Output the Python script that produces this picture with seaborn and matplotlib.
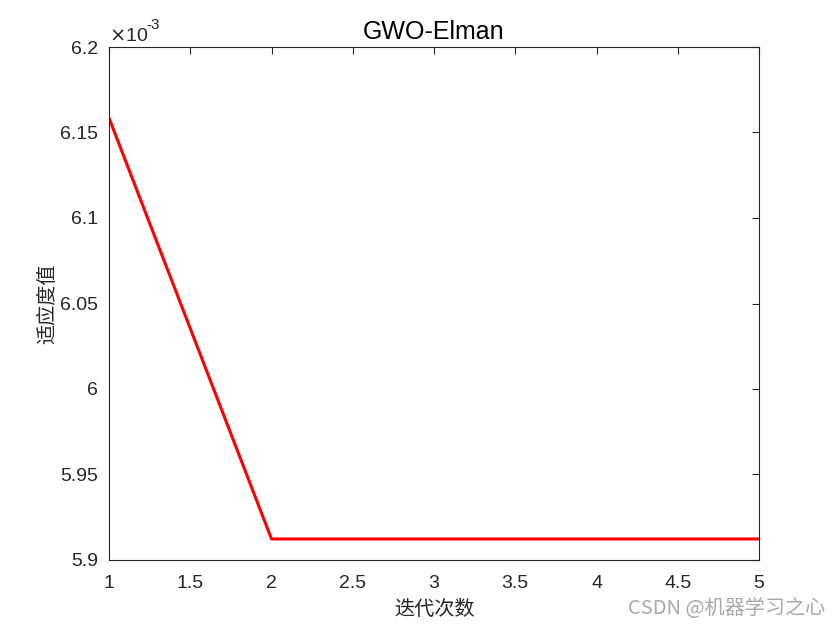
import matplotlib
matplotlib.use("Agg")
import matplotlib.pyplot as plt
import seaborn as sns
import pandas as pd
from matplotlib.ticker import FuncFormatter, FixedLocator

iterations = [1, 2, 3, 4, 5]
fitness = [6.1585e-3, 5.9123e-3, 5.9123e-3, 5.9123e-3, 5.9123e-3]
x_ticks = [1, 1.5, 2, 2.5, 3, 3.5, 4, 4.5, 5]
y_ticks = [5.9e-3, 5.95e-3, 6.0e-3, 6.05e-3, 6.1e-3, 6.15e-3, 6.2e-3]
title = "GWO-Elman"
xlabel = "迭代次数"
ylabel = "适应度值"
watermark = "CSDN @机器学习之心"

sns.set_theme(style="white")
plt.rcParams['font.family'] = ['Liberation Sans', 'Noto Sans CJK SC', 'DejaVu Sans']
plt.rcParams['xtick.direction'] = 'in'
plt.rcParams['ytick.direction'] = 'in'

df = pd.DataFrame({"iter": iterations, "fit": fitness})

fig = plt.figure(figsize=(8.4, 6.3), dpi=100)
ax = fig.add_axes([109/840, 1-560/630, (759-109)/840, (560-47)/630])
sns.lineplot(data=df, x="iter", y="fit", color="#ff0000", linewidth=2.2, ax=ax)

ax.set_xlim(1, 5)
ax.set_ylim(5.9e-3, 6.2e-3)
ax.xaxis.set_major_locator(FixedLocator(x_ticks))
ax.yaxis.set_major_locator(FixedLocator(y_ticks))
ax.xaxis.set_major_formatter(FuncFormatter(lambda v, p: f"{v:g}"))
ax.yaxis.set_major_formatter(FuncFormatter(lambda v, p: f"{round(v*1e3, 4):g}"))
ax.tick_params(axis='both', which='major', labelsize=14, colors='#262626',
               length=5, width=0.8, top=True, right=True)
ax.tick_params(axis='x', pad=11)
ax.tick_params(axis='y', pad=8)
for s in ax.spines.values():
    s.set_color('#262626')
    s.set_linewidth(0.8)

ax.set_title(title, fontsize=18, color='black', pad=6)
ax.set_xlabel(xlabel, fontsize=14.5, color='#262626', labelpad=5,
              family=['Noto Sans CJK SC', 'DejaVu Sans'])
ax.set_ylabel(ylabel, fontsize=14.5, color='#262626', labelpad=1,
              family=['Noto Sans CJK SC', 'DejaVu Sans'])
ax.text(0.0, 1.004, r"$\times$10", transform=ax.transAxes, fontsize=14,
        color='#262626', ha='left', va='bottom')
ax.text(0.058, 1.030, "-3", transform=ax.transAxes, fontsize=11,
        color='#262626', ha='left', va='bottom')
fig.text(0.982, 0.018, watermark, fontsize=14.5, color='#a8a8a8', ha='right', va='bottom',
         family=['Noto Sans CJK SC', 'DejaVu Sans'])

fig.savefig("out.png", dpi=100, facecolor='white')
